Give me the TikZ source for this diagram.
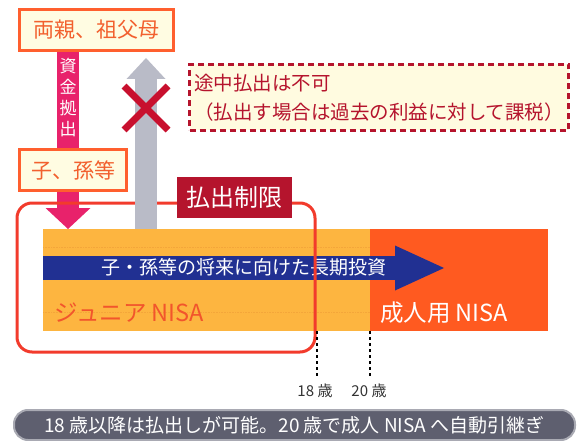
\documentclass[tikz,border=0pt]{standalone}
\usepackage{fontspec}
\setmainfont{Noto Sans CJK JP}
\usetikzlibrary{calc}
\usetikzlibrary{arrows.meta}

\begin{document}
\begin{tikzpicture}
				[x=1pt,y=-1pt,line join=miter,
				%Styles
				person box/.style={draw=boxline,fill=boxfill,line width=3pt,text=boxtext,inner sep=0pt,font=\fontsize{21}{21}\selectfont},
				note box/.style={draw=limitred,fill=notefill,line width=3pt,dash pattern=on 6pt off 4pt,text=limitred,align=left,inner sep=0pt,font=\fontsize{19.5}{29}\selectfont},
				limit label/.style={fill=limitred,text=white,inner sep=0pt,minimum width=115pt,minimum height=41pt,font=\fontsize{24}{24}\selectfont},
				limit frame/.style={draw=framered,line width=3pt,rounded corners=15pt},
				fund arrow/.style={draw=fundpink,line width=22pt,-{Triangle[length=21pt,width=45pt,line width=0pt]}},
				back arrow/.style={draw=backgray,line width=22pt,-{Triangle[length=21pt,width=39pt,line width=0pt]}},
				plan arrow/.style={draw=planblue,line width=24pt,-{Triangle[length=49pt,width=45pt,line width=0pt]}},
				no mark/.style={draw=nored,line width=7pt},
				guide line/.style={draw=guideorange,line width=0.6pt,densely dotted},
				age line/.style={draw=black,line width=1.5pt,dash pattern=on 3pt off 3pt},
				age text/.style={text=agetext,inner sep=0pt,font=\fontsize{15}{15}\selectfont},
				nisa text/.style={anchor=west,inner sep=0pt,font=\fontsize{23.5}{23.5}\selectfont},
				summary bar/.style={draw=summaryline,fill=summaryfill,line width=2pt,rounded corners=14pt,text=white,inner sep=0pt,font=\fontsize{19}{19}\selectfont}
				]
				
				%Colors
				\definecolor{boxline}{HTML}{FF5F2E}
				\definecolor{boxfill}{HTML}{FFFCE2}
				\definecolor{boxtext}{HTML}{F2602E}
				\definecolor{limitred}{HTML}{B5142D}
				\definecolor{notefill}{HTML}{FFFBE0}
				\definecolor{framered}{HTML}{F23B2C}
				\definecolor{fundpink}{HTML}{E8226B}
				\definecolor{backgray}{HTML}{B9BBC7}
				\definecolor{planblue}{HTML}{213092}
				\definecolor{nored}{HTML}{C8102E}
				\definecolor{juniororange}{HTML}{FDB540}
				\definecolor{adultred}{HTML}{FF5A20}
				\definecolor{guideorange}{HTML}{F4A63A}
				\definecolor{juniortext}{HTML}{F2552C}
				\definecolor{agetext}{HTML}{333333}
				\definecolor{summaryfill}{HTML}{5E5F6F}
				\definecolor{summaryline}{HTML}{A9AAB3}
				
				\useasboundingbox (0,0) rectangle (581,441);
				
				%The graphic
				\coordinate (junior nw) at (43,229);
				\coordinate (age18) at (317,331);
				\coordinate (age20) at (370,331);
				\coordinate (adult se) at (548,331);
				\coordinate (fund tip) at (68,229);
				\coordinate (back base) at (146,229);
				\coordinate (back tip) at (146,58);
				\coordinate (plan start) at (43,268);
				\coordinate (plan end) at (444,268);
				\coordinate (cross) at (146,108);
				
				%NISA bars
				\fill[juniororange] (junior nw) rectangle (age20 |- adult se);
				\fill[adultred] (age20 |- junior nw) rectangle (adult se);
				\draw[guide line] (43,247) -- (370,247);
				\draw[guide line] (43,312) -- (370,312);
				\node[nisa text,text=juniortext] (junior) at (54,313) {ジュニア NISA};
				\node[nisa text,text=white] (adult) at (380,313) {成人用 NISA};
				\draw[plan arrow] (plan start) -- (plan end);
				\node[text=white,inner sep=0pt,font=\fontsize{19}{19}\selectfont] (plan) at (244,267) {子・孫等の将来に向けた長期投資};
				
				%Money in, no money out
				\draw[fund arrow] (fund tip |- 0,52) -- (fund tip);
				\draw[limit frame] (17,203) rectangle (315,352);
				\draw[back arrow] (back base) -- (back tip);
				\draw[no mark] ($(cross)+(-22,-22)$) -- ($(cross)+(22,22)$);
				\draw[no mark] ($(cross)+(-22,22)$) -- ($(cross)+(22,-22)$);
				
				\node[person box,minimum width=154pt,minimum height=41pt] (parents) at (96.5,30) {両親、祖父母};
				\node[person box,minimum width=107pt,minimum height=41pt] (kids) at (73,170) {子、孫等};
				\node[text=white,align=center,inner sep=0pt,font=\fontsize{17}{21}\selectfont] (fund) at (68,98) {資\\金\\拠\\出};
				\node[note box,minimum width=379pt,minimum height=66pt] (note) at (379,97.5) {途中払出は不可\\（払出す場合は過去の利益に対して課税）};
				\node[limit label] (limit) at (234.5,197.5) {払出制限};
				
				%Ages
				\draw[age line] (age18) -- ++(0,47);
				\draw[age line] (age20) -- ++(0,47);
				\node[age text] (age18 text) at (315,391) {18 歳};
				\node[age text] (age20 text) at (369,391) {20 歳};
				
				\node[summary bar,minimum width=561pt,minimum height=30pt] (summary) at (294.5,425) {18 歳以降は払出しが可能。20 歳で成人 NISA へ自動引継ぎ};
			\end{tikzpicture}
\end{document}
